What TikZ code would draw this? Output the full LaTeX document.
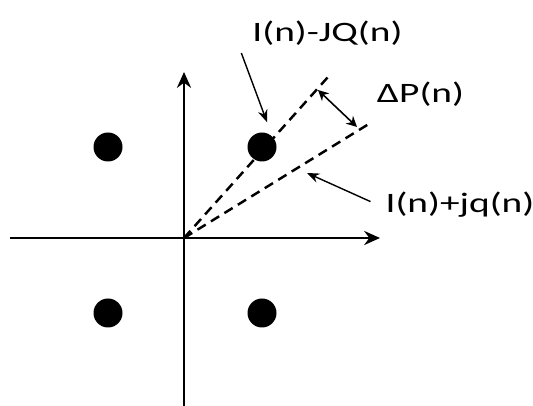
\documentclass[tikz,border=0pt]{standalone}
\usepackage{fontspec}
\setmainfont{Carlito}[FakeStretch=1.4]
\usetikzlibrary{arrows.meta}

\begin{document}
\begin{tikzpicture}[
    axis/.style={line width=1.7pt, -{Stealth[length=9pt, width=8pt]}},
    guide/.style={line width=1.4pt, dash pattern=on 5.5pt off 3.5pt},
    symbol/.style={circle, fill=black, inner sep=0pt, minimum size=0.58cm},
    lbl/.style={font=\fontsize{16}{18}\selectfont, anchor=base, inner sep=1pt},
    pointer/.style={-{Stealth[length=7pt, width=5.5pt]}, line width=0.8pt},
    span/.style={{Stealth[length=6pt, width=6pt]}-{Stealth[length=6pt, width=6pt]}, line width=0.9pt}
]
    \useasboundingbox (0,0) rectangle (10.66,8.12);

    % axes
    \coordinate (origin) at (3.68,3.36);
    \coordinate (xmin) at (0.2,3.36);
    \coordinate (xmax) at (7.6,3.36);
    \coordinate (ymin) at (3.68,0);
    \coordinate (ymax) at (3.68,6.68);
    \draw[axis] (xmin) -- (xmax);
    \draw[axis] (ymin) -- (ymax);

    % constellation points
    \node[symbol] (ptUL) at (2.16,5.18) {};
    \node[symbol] (ptUR) at (5.24,5.18) {};
    \node[symbol] (ptLL) at (2.16,1.86) {};
    \node[symbol] (ptLR) at (5.24,1.86) {};

    % phase lines
    \coordinate (ideal) at (6.56,6.58);
    \coordinate (recv) at (7.44,5.68);
    \draw[guide] (origin) -- (ideal);
    \draw[guide] (origin) -- (recv);

    \coordinate (spanA) at (6.36,6.32);
    \coordinate (spanB) at (7.14,5.58);
    \draw[span] (spanA) -- (spanB);

    % labels
    \node[lbl] (lblIdeal) at (6.55,7.28) {I(n)-JQ(n)};
    \node[lbl] (lblDelta) at (8.41,6.06) {ΔP(n)};
    \node[lbl] (lblRecv) at (9.2,3.86) {I(n)+jq(n)};

    \coordinate (recvTip) at (6.14,4.66);
    \draw[pointer] ([xshift=-0.18cm, yshift=-0.1cm]lblIdeal.south west) -- ([xshift=0.1cm, yshift=0.2cm]ptUR.north);
    \draw[pointer] ([xshift=-0.26cm, yshift=2pt]lblRecv.west) -- (recvTip);
\end{tikzpicture}
\end{document}
